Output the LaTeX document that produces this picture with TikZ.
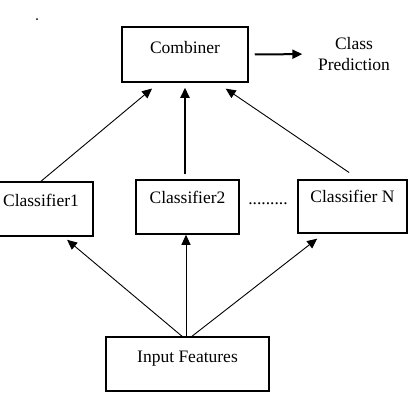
\documentclass[tikz,border=0pt]{standalone}
\usepackage{fontspec}
\setmainfont{Liberation Serif}
\usetikzlibrary{arrows.meta}

\begin{document}
\begin{tikzpicture}[x=1pt,y=-1pt,
    every node/.style={font=\fontsize{17.5}{20.5}\selectfont},
    blk/.style={draw,line width=1.5pt,inner sep=0pt,text height=24pt,text depth=30pt},
    arr/.style={-{Triangle[length=10pt,width=9pt]},line width=0.9pt},
    thickarr/.style={arr,line width=2pt}]

  \clip (0,0) rectangle (410,410);
  \useasboundingbox (0,0) rectangle (410,410);

  \fill (37,19) circle (1pt);

  % boxes
  \node[blk,minimum width=126pt,text height=26pt,text depth=29pt] (comb) at (185,54.5) {Combiner};
  \node[blk,minimum width=104pt] (c1) at (41,209) {Classifier1};
  \node[blk,minimum width=103pt,text height=23pt,text depth=31pt] (c2) at (187.5,207) {Classifier2};
  \node[blk,minimum width=109pt,text height=22pt,text depth=31pt] (cN) at (352.5,206.5) {Classifier N};
  \node[blk,minimum width=163pt,text height=25pt,text depth=29pt] (in) at (187.5,364) {Input Features};

  \node[align=center,inner sep=0pt] (pred) at (354,54) {Class\\Prediction};
  \node[anchor=base,inner sep=0pt] (dots) at (268,204) {.........};

  % arrows
  \draw[thickarr,shorten <=6pt,shorten >=15.5pt] (comb.east) -- (pred.west);

  \draw[arr,shorten >=9pt] (c1.north) -- ([xshift=-26pt]comb.south);
  \draw[thickarr,shorten <=5pt,shorten >=5pt] (comb.south |- c2.north) -- (comb.south);
  \draw[arr,shorten <=12pt,shorten >=10.5pt] ([xshift=6.5pt]cN.north) -- ([xshift=32pt]comb.south);

  \draw[arr,shorten >=4.7pt] ([xshift=-5.5pt]in.north) -- ([xshift=22.5pt]c1.south);
  \draw[arr] ([xshift=-1.5pt]in.north) -- ([xshift=-1.5pt]in.north |- c2.south);
  \draw[arr,shorten >=8pt] ([xshift=4.5pt]in.north) -- ([xshift=-29pt]cN.south);

\end{tikzpicture}
\end{document}
